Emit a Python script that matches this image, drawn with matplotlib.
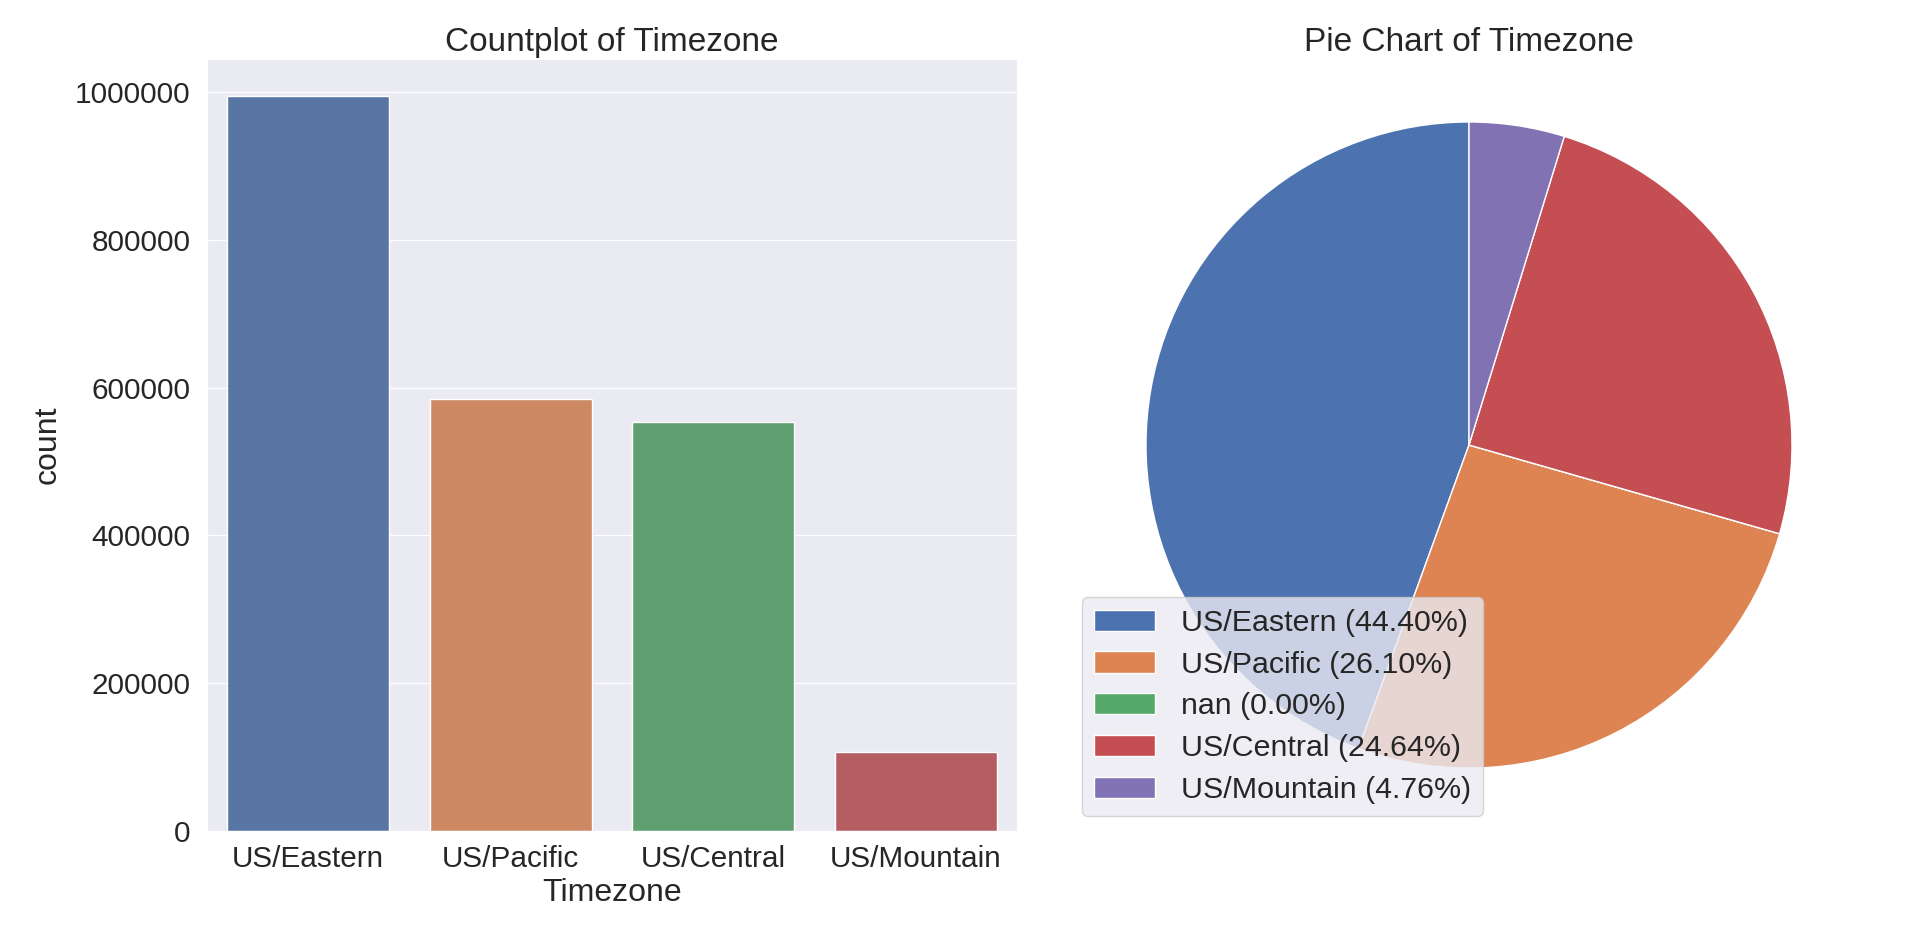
import matplotlib
matplotlib.use("Agg")
import matplotlib.pyplot as plt
import seaborn as sns
from matplotlib.ticker import FuncFormatter

# ---- data ----
bar_categories = ["US/Eastern", "US/Pacific", "US/Central", "US/Mountain"]
bar_counts = [995000, 585000, 553000, 107000]

pie_labels = ["US/Eastern", "US/Pacific", "nan", "US/Central", "US/Mountain"]
pie_percent = [44.40, 26.10, 0.00, 24.64, 4.76]

sns.set_style("darkgrid")
plt.rcParams['font.family'] = ['Liberation Sans', 'DejaVu Sans']

deep = sns.color_palette("deep")
bar_colors = [sns.desaturate(c, 0.75) for c in deep[:4]]
pie_colors = list(deep[:5])

fig = plt.figure(figsize=(19.2, 9.27), dpi=100)
ax1 = fig.add_axes([207/1920, 1 - 831/927, 810/1920, 772/927])
ax2 = fig.add_axes([1065/1920, 1 - 831/927, 808/1920, 772/927])

# ---- countplot ----
x = list(range(len(bar_categories)))
ax1.bar(x, bar_counts, width=0.8, color=bar_colors, edgecolor="white", linewidth=1)
ax1.set_xticks(x)
ax1.set_xticklabels(bar_categories)
ax1.set_xlim(-0.5, len(bar_categories) - 0.5)
ax1.set_ylim(0, max(bar_counts) * 1.05)
ax1.set_yticks([0, 200000, 400000, 600000, 800000, 1000000])
ax1.yaxis.set_major_formatter(FuncFormatter(lambda v, p: f"{int(v)}"))
ax1.grid(axis="x", visible=False)
ax1.tick_params(axis="both", labelsize=21.4, colors="#262626", length=0)
ax1.tick_params(axis="y", pad=12)
ax1.tick_params(axis="x", pad=10)
ax1.set_xlabel("Timezone", fontsize=23, color="#262626", labelpad=4)
ax1.set_ylabel("count", fontsize=23, color="#262626", labelpad=9)
ax1.set_title("Countplot of Timezone", fontsize=24, color="#262626", pad=6)

# ---- pie ----
wedges, _ = ax2.pie(pie_percent, colors=pie_colors, startangle=90,
                    wedgeprops=dict(edgecolor="white", linewidth=1))
ax2.set_xlim(-1.195, 1.195)
ax2.set_ylim(-1.195, 1.195)
ax2.set_title("Pie Chart of Timezone", fontsize=24, color="#262626", pad=6)
legend_labels = [f"{n} ({p:.2f}%)" for n, p in zip(pie_labels, pie_percent)]
leg = ax2.legend(wedges, legend_labels, loc="lower left", fontsize=21.9,
                 handletextpad=0.855, labelspacing=0.45, borderaxespad=0,
                 bbox_to_anchor=(1082/1920, 1 - 816/927),
                 bbox_transform=fig.transFigure)
for t in leg.get_texts():
    t.set_color("#262626")

fig.savefig("out.png", dpi=100)
